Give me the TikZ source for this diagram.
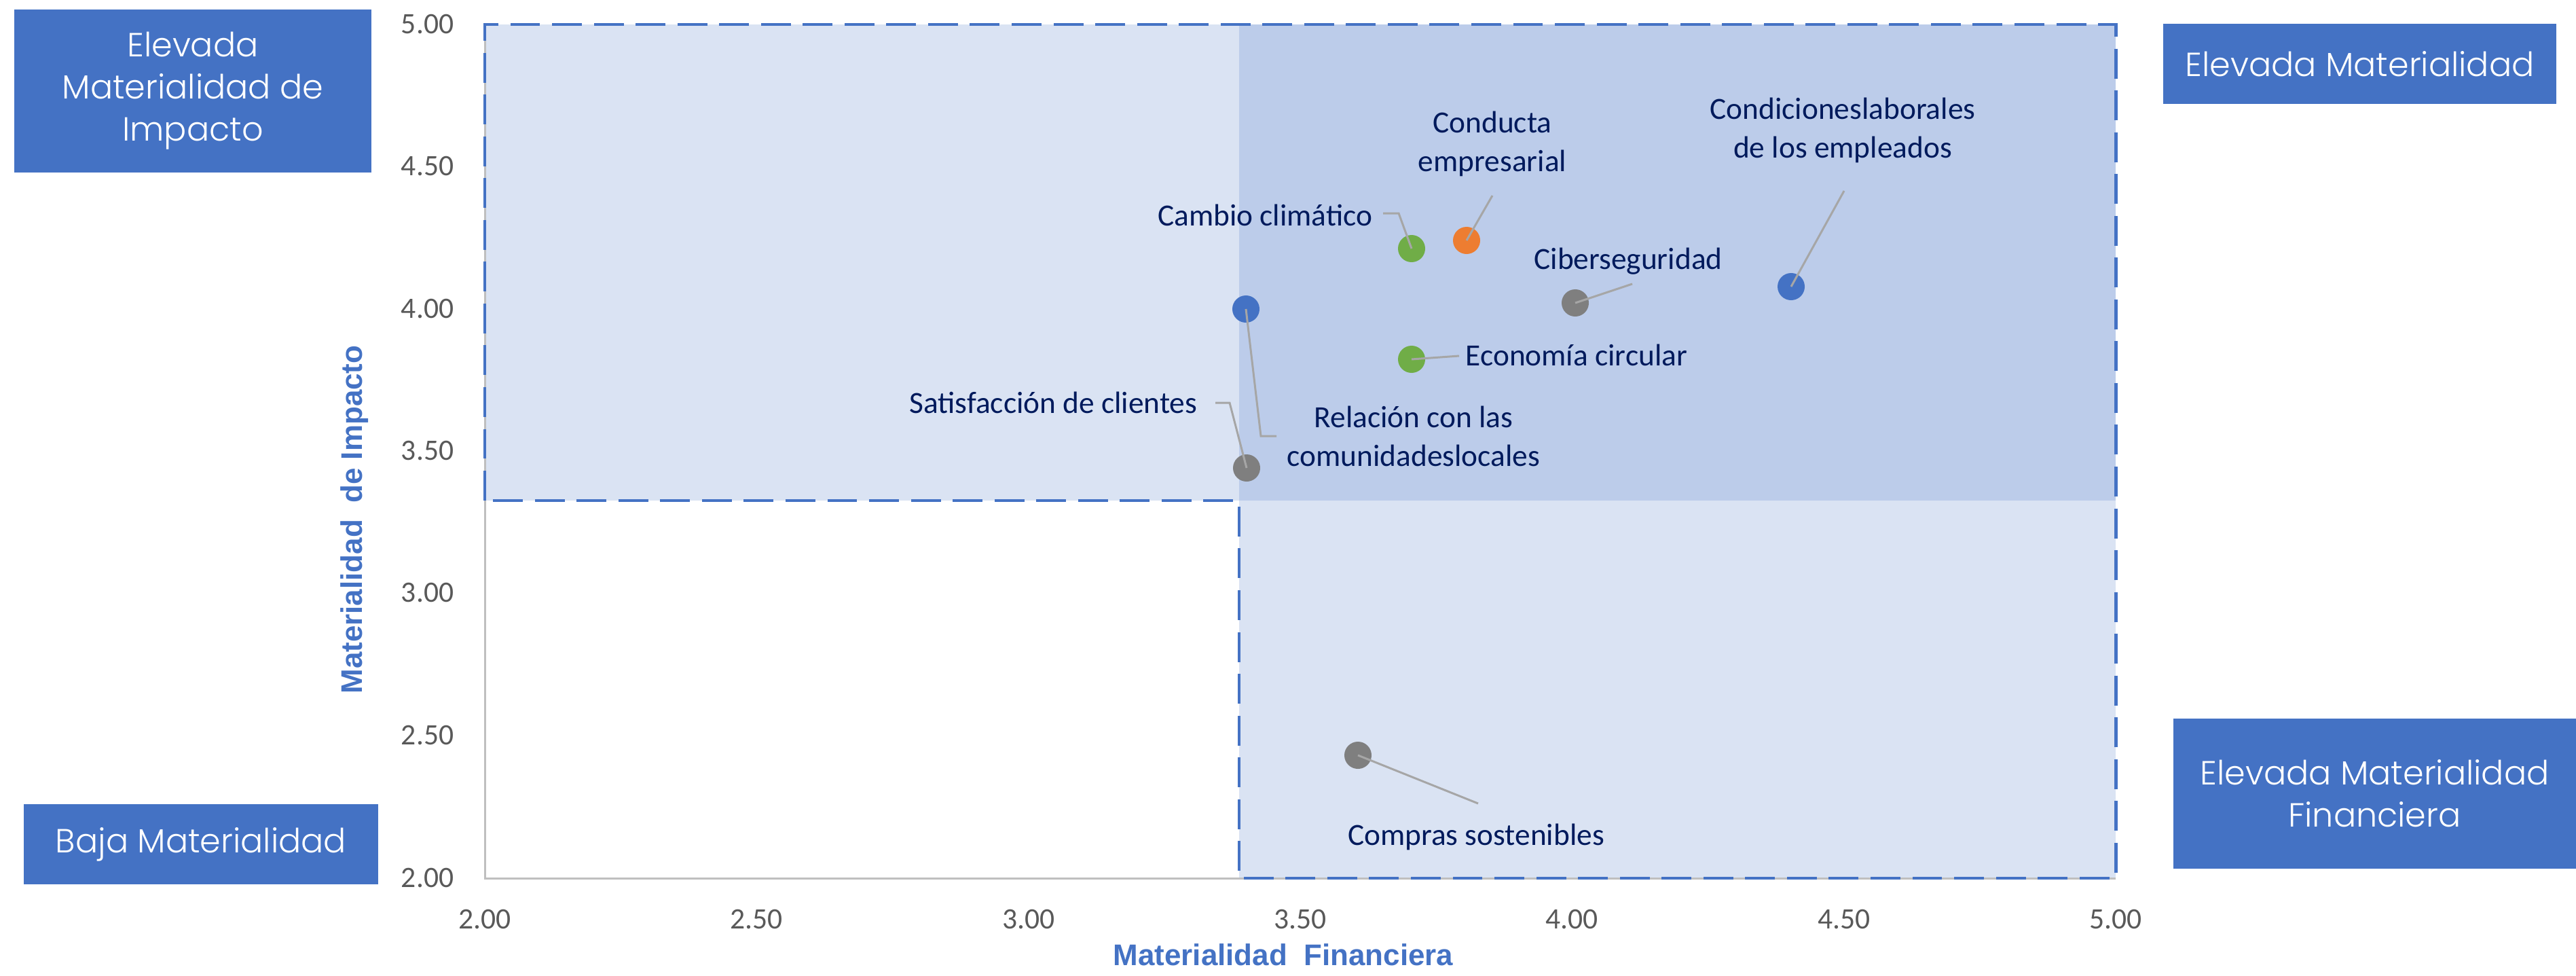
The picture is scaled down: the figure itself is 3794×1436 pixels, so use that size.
\documentclass[tikz,border=0pt]{standalone}
\usepackage{fontspec}
\setmainfont{Carlito}
\newfontfamily\popf{Poppins}[UprightFont={* Light}]
\newfontfamily\arialf{Liberation Sans}
\definecolor{xblue}{HTML}{4472C4}
\definecolor{xorange}{HTML}{ED7D31}
\definecolor{xgreen}{HTML}{70AD47}
\definecolor{xgray}{HTML}{7F7F7F}
\definecolor{navy}{HTML}{001A5C}
\definecolor{ticktxt}{HTML}{595959}
\definecolor{axisline}{HTML}{BFBFBF}
\definecolor{leader}{HTML}{A6A6A6}
\tikzset{
  dot/.style={circle, minimum size=0.4cm, inner sep=0pt, draw=none},
  lbl/.style={text=navy, font=\fontsize{12.9pt}{16.2pt}\selectfont, inner sep=0pt, align=center},
  lead/.style={draw=leader, line width=0.85pt},
  tick/.style={text=ticktxt, font=\fontsize{12.4pt}{14pt}\selectfont, inner sep=0pt},
  qbox/.style={fill=xblue, text=white, inner sep=0pt, align=center, font=\popf\fontsize{14pt}{17.6pt}\selectfont},
  axt/.style={text=xblue, font=\arialf\bfseries\fontsize{12.5pt}{14pt}\selectfont, inner sep=0pt},
  dashb/.style={draw=xblue, line width=1.4pt, dash pattern=on 12.5pt off 5pt},
}
\begin{document}
\begin{tikzpicture}[x=0.01cm, y=-0.01cm]
\useasboundingbox (0,0) rectangle (3794,1436);
% shaded regions
\fill[xblue, fill opacity=0.2] (714,36) rectangle (3116,737);
\fill[xblue, fill opacity=0.2] (1825,36) rectangle (3116,1293);
% axis lines
\draw[axisline, line width=0.85pt] (714,36) -- (714,1293) -- (3116,1293);
% dashed outline
\draw[dashb] (714,737) -- (714,36) -- (3116,36) -- (3116,1293) -- (1825,1293) -- (1825,737) -- cycle;
% tick labels y
\foreach \v/\yy in {5.00/36, 4.50/245, 4.00/455, 3.50/664, 3.00/873, 2.50/1083, 2.00/1292}
  \node[tick, anchor=east] (yt\v) at (669,\yy) {\v};
% tick labels x
\foreach \v/\xx in {2.00/714, 2.50/1114, 3.00/1515, 3.50/1915, 4.00/2315, 4.50/2716, 5.00/3116}
  \node[tick] (xt\v) at (\xx,1353) {\v};
% axis titles
\node[axt] (xtitle) at (1890,1406) {Materialidad~ Financiera};
\node[axt, rotate=90] (ytitle) at (522,765) {Materialidad~ de Impacto};
% markers
\node[dot, fill=xgreen] (cambio) at (2079,366) {};
\node[dot, fill=xorange] (conducta) at (2160,354) {};
\node[dot, fill=xgray] (ciber) at (2320,446) {};
\node[dot, fill=xblue] (condic) at (2638,422) {};
\node[dot, fill=xblue] (relac) at (1835,455) {};
\node[dot, fill=xgreen] (econ) at (2079,529) {};
\node[dot, fill=xgray] (satis) at (1836,689) {};
\node[dot, fill=xgray] (compras) at (2000,1112) {};
% leader end points
\coordinate (cambioE) at (2037,314);
\coordinate (conductaE) at (2198,288);
\coordinate (ciberE) at (2404,418);
\coordinate (condicE) at (2716,281);
\coordinate (econE) at (2149,524);
\coordinate (relacE) at (1880,642);
\coordinate (satisE) at (1790,593);
\coordinate (comprasE) at (2177,1183);
% leaders
\draw[lead] (cambio.center) -- (2060,314) -- (cambioE);
\draw[lead] (conducta.center) -- (conductaE);
\draw[lead] (ciber.center) -- (ciberE);
\draw[lead] (condic.center) -- (condicE);
\draw[lead] (econ.center) -- (econE);
\draw[lead] (relac.center) -- (1857,642) -- (relacE);
\draw[lead] (satis.center) -- (1811,593) -- (satisE);
\draw[lead] (compras.center) -- (comprasE);
% labels
\node[lbl, anchor=east] (Lcambio) at (2022,317) {Cambio climático};
\node[lbl] (Lconducta) at (2198,212) {Conducta\\empresarial};
\node[lbl] (Lciber) at (2398,385) {Ciberseguridad};
\node[lbl] (Lcondic) at (2714,192) {Condicioneslaborales\\de los empleados};
\node[lbl, anchor=west] (Lecon) at (2158,523) {Economía circular};
\node[lbl] (Lrelac) at (2082,642) {Relación con las\\comunidadeslocales};
\node[lbl, anchor=east] (Lsatis) at (1764,593) {Satisfacción de clientes};
\node[lbl] (Lcompras) at (2174,1232) {Compras sostenibles};
% quadrant boxes
\node[qbox, minimum width=5.26cm, minimum height=2.40cm] (qTL) at (284,134) {Elevada\\Materialidad de\\Impacto};
\node[qbox, minimum width=5.79cm, minimum height=1.18cm] (qTR) at (3475.5,94) {Elevada Materialidad};
\node[qbox, minimum width=5.93cm, minimum height=2.21cm] (qBR) at (3497.5,1168.5) {Elevada Materialidad\\Financiera};
\node[qbox, minimum width=5.22cm, minimum height=1.18cm] (qBL) at (296,1243) {Baja Materialidad};
\end{tikzpicture}
\end{document}
